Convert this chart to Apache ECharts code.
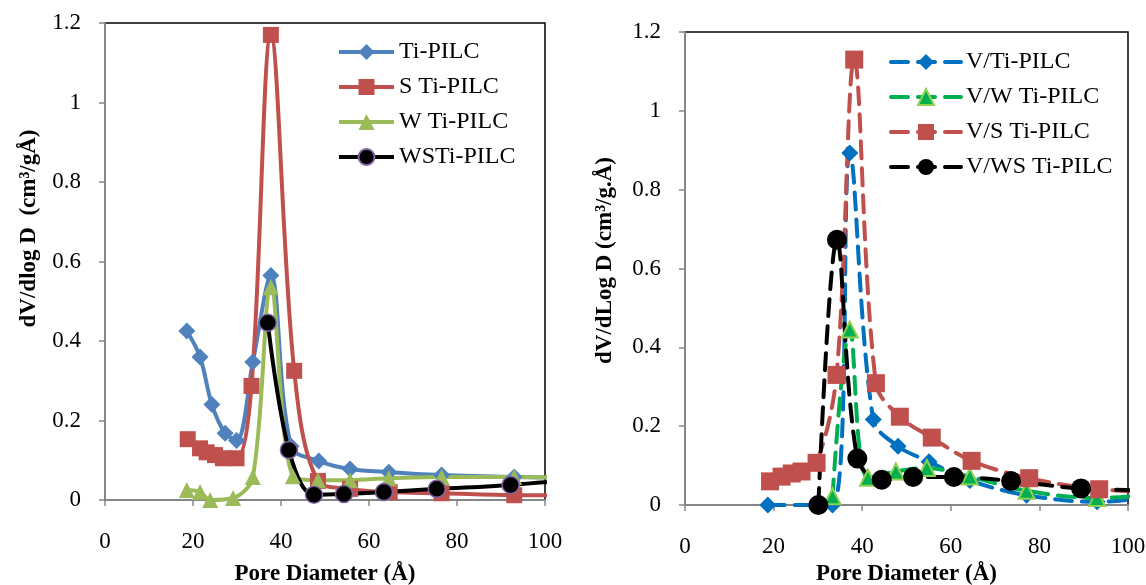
<!DOCTYPE html>
<html>
<head>
<meta charset="utf-8">
<script src="https://cdn.jsdelivr.net/npm/echarts@6/dist/echarts.min.js"></script>
<style>
  html, body { margin: 0; padding: 0; background: #fff; }
  #chart { width: 1146px; height: 585px; }
</style>
</head>
<body>
<div id="chart"></div>
<script>
// Pore size distributions, x = pore diameter (Å), y = dV/dlogD (cm³/g·Å)

// Left panel: pillared clay supports
const tiPilc   = [[18.6,0.425],[21.6,0.36],[24.3,0.24],[27.3,0.168],[29.9,0.15],[33.6,0.347],[37.7,0.565],[42.3,0.135],[48.6,0.098],[55.7,0.078],[64.5,0.07],[76.5,0.063],[93,0.058],[115,0.054]];
const sTiPilc  = [[18.8,0.153],[21.6,0.13],[23.1,0.12],[25,0.113],[26.8,0.105],[29.9,0.105],[33.3,0.287],[37.7,1.17],[43,0.325],[48.4,0.048],[55.7,0.028],[64.7,0.02],[76.5,0.017],[93,0.012],[115,0.013]];
const wTiPilc  = [[18.6,0.025],[21.6,0.02],[23.9,0.0],[29.1,0.005],[33.6,0.058],[37.7,0.535],[42.7,0.06],[48.4,0.05],[55.7,0.05],[64.5,0.055],[76.5,0.058],[93,0.058],[115,0.052]];
const wsTiPilc = [[37,0.446],[41.8,0.126],[47.5,0.013],[54.3,0.015],[63.4,0.02],[75.4,0.028],[92.2,0.038],[115,0.06]];

// Right panel: vanadium-loaded catalysts
const vTiPilc   = [[18.7,0.0],[33.3,0.0],[37.2,0.893],[42.5,0.217],[48.1,0.149],[55.1,0.11],[64.3,0.062],[77.1,0.025],[93,0.008],[115,0.04]];
const vwTiPilc  = [[33.3,0.022],[37.2,0.445],[41.3,0.069],[47.6,0.085],[54.6,0.094],[64.3,0.072],[77.1,0.036],[93,0.018],[115,0.04]];
const vsTiPilc  = [[19.2,0.06],[21.8,0.072],[24.1,0.08],[26.3,0.085],[29.7,0.107],[34.2,0.33],[38.2,1.13],[43.1,0.309],[48.5,0.224],[55.7,0.171],[64.7,0.112],[77.7,0.068],[93.5,0.04],[115,0.03]];
const vwsTiPilc = [[30.1,0.0],[34.3,0.673],[38.9,0.118],[44.4,0.064],[51.5,0.071],[60.7,0.071],[73.6,0.061],[89.4,0.042],[115,0.035]];

const xTicks = { min: 0, max: 100, interval: 20 };
const yTicks = { min: 0, max: 1.2, interval: 0.2 };

const FONT = '"Liberation Serif", "Times New Roman", serif';
const AXIS_GRAY = '#868686';

function xAxis(gridIndex, gap) {
  return {
    gridIndex, type: 'value', ...xTicks,
    name: 'Pore Diameter (Å)', nameLocation: 'middle', nameGap: gap,
    nameTextStyle: { fontFamily: FONT, fontSize: 23, fontWeight: 'bold', color: '#000' },
    axisLine: { lineStyle: { color: AXIS_GRAY, width: 2 } },
    axisTick: { inside: false, length: 6, lineStyle: { color: AXIS_GRAY, width: 1.5 } },
    axisLabel: { fontFamily: FONT, fontSize: 23, color: '#000', margin: 30 },
    splitLine: { show: false }
  };
}

function yAxis(gridIndex, title, gap, shiftUp) {
  return {
    gridIndex, type: 'value', ...yTicks,
    name: title, nameLocation: 'middle', nameGap: gap,
    nameTextStyle: { fontFamily: FONT, fontSize: 23, fontWeight: 'bold', color: '#000', padding: [0, 0, 0, shiftUp * 2] },
    axisLine: { show: true, lineStyle: { color: AXIS_GRAY, width: 2 } },
    axisTick: { show: true, inside: false, length: 6, lineStyle: { color: AXIS_GRAY, width: 1.5 } },
    axisLabel: { fontFamily: FONT, fontSize: 23, color: '#000', margin: 24 },
    splitLine: { show: false }
  };
}

function solid(name, data, color, symbol, size, extra) {
  return {
    name, type: 'line', xAxisIndex: 0, yAxisIndex: 0, data,
    smooth: 0.35, symbol, symbolSize: size, clip: true,
    lineStyle: { color, width: 4 },
    itemStyle: Object.assign({ color, borderWidth: 0 }, extra || {})
  };
}

function dashed(name, data, color, symbol, size, extra) {
  return {
    name, type: 'line', xAxisIndex: 1, yAxisIndex: 1, data,
    smooth: 0.35, symbol, symbolSize: size, clip: true,
    lineStyle: { color, width: 4, type: [17, 10], cap: 'round' },
    itemStyle: Object.assign({ color, borderWidth: 0 }, extra || {})
  };
}

const legendText = { fontFamily: FONT, fontSize: 24, color: '#000', lineHeight: 24 };

const option = {
  animation: false,
  backgroundColor: '#fff',
  grid: [
    { left: 105, right: 601, top: 23, bottom: 85, outerBoundsMode: 'none', containLabel: false,
      show: true, borderColor: '#000', borderWidth: 1.5 },
    { left: 685, right: 18, top: 32, bottom: 80, outerBoundsMode: 'none', containLabel: false,
      show: true, borderColor: '#000', borderWidth: 1.5 }
  ],
  xAxis: [xAxis(0, 63), xAxis(1, 58)],
  yAxis: [
    yAxis(0, 'dV/dlog D  (cm³/gÅ)', 64, 33),
    yAxis(1, 'dV/dLog D (cm³/g.Å)', 68, 8)
  ],
  legend: [
    {
      left: 337, top: 40, padding: 0, orient: 'vertical', itemWidth: 55, itemHeight: 20, itemGap: 11,
      textStyle: legendText, lineStyle: { width: 4 },
      data: ['Ti-PILC', 'S Ti-PILC', 'W Ti-PILC', 'WSTi-PILC']
    },
    {
      left: 889, top: 50, padding: 0, orient: 'vertical', itemWidth: 70, itemHeight: 20, itemGap: 11,
      textStyle: legendText, lineStyle: { width: 4 },
      data: ['V/Ti-PILC', 'V/W Ti-PILC', 'V/S Ti-PILC', 'V/WS Ti-PILC']
    }
  ],
  series: [
    solid('Ti-PILC', tiPilc, '#4F81BD', 'diamond', 17),
    solid('S Ti-PILC', sTiPilc, '#C0504D', 'rect', 16),
    solid('W Ti-PILC', wTiPilc, '#9BBB59', 'triangle', 16),
    solid('WSTi-PILC', wsTiPilc, '#000000', 'circle', 17, { borderColor: '#8064A2', borderWidth: 1.5 }),

    dashed('V/Ti-PILC', vTiPilc, '#0070C0', 'diamond', 17),
    dashed('V/W Ti-PILC', vwTiPilc, '#00B050', 'triangle', 16, { borderColor: '#92D050', borderWidth: 2 }),
    dashed('V/S Ti-PILC', vsTiPilc, '#C0504D', 'rect', 18),
    dashed('V/WS Ti-PILC', vwsTiPilc, '#000000', 'circle', 20)
  ]
};

const chart = echarts.init(document.getElementById('chart'), null, { renderer: 'canvas' });
chart.setOption(option);
</script>
</body>
</html>
